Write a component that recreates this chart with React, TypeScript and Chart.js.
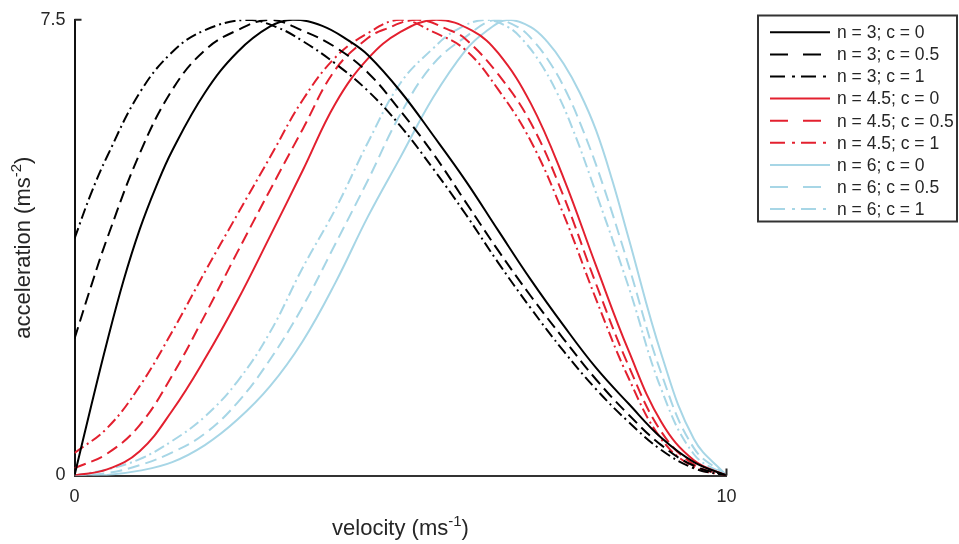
import { useEffect, useRef } from "react";
import { Chart, registerables } from "chart.js";

Chart.register(...registerables);

// ---------- data ----------
const labels = [
  "n = 3; c = 0",
  "n = 3; c = 0.5",
  "n = 3; c = 1",
  "n = 4.5; c = 0",
  "n = 4.5; c = 0.5",
  "n = 4.5; c = 1",
  "n = 6; c = 0",
  "n = 6; c = 0.5",
  "n = 6; c = 1",
];

const n3c0X = [0, 0.25, 0.5, 0.75, 1, 1.25, 1.5, 2, 2.5, 3, 3.35, 3.8, 4.2, 4.5, 5, 5.5, 6, 6.5, 7, 7.5, 8, 8.5, 9, 9.5, 10];
const n3c0Y = [0, 1.12, 2.2, 3.2, 4.05, 4.75, 5.35, 6.3, 6.97, 7.39, 7.5, 7.4, 7.16, 6.92, 6.32, 5.6, 4.85, 4.03, 3.22, 2.47, 1.77, 1.18, 0.62, 0.22, 0];

const n3c05X = [0, 0.25, 0.5, 1, 1.5, 2, 2.5, 3, 3.5, 4, 4.5, 5, 5.5, 6, 6.5, 7, 7.5, 8, 8.5, 9, 9.5, 10];
const n3c05Y = [2.25, 3.1, 3.9, 5.3, 6.35, 7.0, 7.33, 7.5, 7.32, 7.05, 6.63, 6.0, 5.3, 4.5, 3.7, 2.95, 2.25, 1.58, 1.0, 0.5, 0.16, 0];

const n3c1X = [0, 0.25, 0.5, 1, 1.5, 2, 2.65, 3.1, 3.5, 4, 4.5, 5, 5.5, 6, 6.5, 7, 7.5, 8, 8.5, 9, 9.5, 10];
const n3c1Y = [3.9, 4.63, 5.25, 6.3, 6.97, 7.33, 7.5, 7.38, 7.15, 6.78, 6.33, 5.75, 5.05, 4.3, 3.5, 2.75, 2.05, 1.42, 0.88, 0.42, 0.12, 0];

const n45c0X = [0, 0.5, 1, 1.5, 2, 2.5, 3, 3.5, 4, 4.5, 5, 5.55, 6.1, 6.5, 7, 7.5, 8, 8.5, 9, 9.5, 10];
const n45c0Y = [0, 0.1, 0.4, 1.07, 1.92, 2.88, 3.94, 5.02, 6.12, 6.86, 7.3, 7.5, 7.32, 6.95, 6.12, 4.9, 3.45, 2.05, 0.88, 0.25, 0];

const n45c05X = [0, 0.5, 1, 1.5, 2, 2.5, 3, 3.5, 4, 4.5, 4.75, 5.25, 5.75, 6, 6.5, 7, 7.5, 8, 8.5, 9, 9.5, 10];
const n45c05Y = [0.12, 0.36, 0.83, 1.65, 2.64, 3.68, 4.7, 5.7, 6.68, 7.2, 7.34, 7.5, 7.33, 7.18, 6.6, 5.8, 4.6, 3.15, 1.8, 0.72, 0.18, 0];

const n45c1X = [0, 0.5, 1, 1.5, 2, 2.5, 3, 3.5, 4, 4.5, 5, 5.5, 6, 6.5, 7, 7.5, 8, 8.5, 9, 9.5, 10];
const n45c1Y = [0.37, 0.78, 1.47, 2.37, 3.35, 4.3, 5.24, 6.18, 6.88, 7.28, 7.5, 7.3, 7.0, 6.35, 5.5, 4.3, 2.9, 1.6, 0.6, 0.14, 0];

const n6c0X = [0, 0.5, 1, 1.5, 2, 2.5, 3, 3.5, 4, 4.5, 5, 5.5, 6, 6.3, 6.65, 7, 7.25, 7.5, 7.75, 8, 8.25, 8.5, 9, 9.5, 10];
const n6c0Y = [0, 0.01, 0.08, 0.22, 0.5, 0.92, 1.47, 2.21, 3.17, 4.26, 5.24, 6.22, 7.0, 7.3, 7.5, 7.38, 7.14, 6.78, 6.3, 5.68, 4.85, 3.9, 2.0, 0.6, 0];

const n6c05X = [0, 0.5, 1, 1.5, 2, 2.5, 3, 3.5, 4, 4.5, 5, 5.5, 6, 6.45, 6.8, 7.05, 7.3, 7.55, 7.8, 8.1, 8.5, 9, 9.5, 10];
const n6c05Y = [0, 0.04, 0.17, 0.38, 0.69, 1.2, 1.91, 2.78, 3.81, 4.86, 5.95, 6.77, 7.22, 7.5, 7.38, 7.14, 6.78, 6.3, 5.68, 4.8, 3.45, 1.68, 0.45, 0];

const n6c1X = [0, 0.5, 1, 1.5, 2, 2.5, 3, 3.5, 4, 4.5, 5, 5.5, 5.85, 6.3, 6.65, 6.9, 7.15, 7.4, 7.65, 7.95, 8.5, 9, 9.5, 10];
const n6c1Y = [0, 0.1, 0.27, 0.57, 0.97, 1.55, 2.36, 3.42, 4.38, 5.48, 6.46, 7.03, 7.33, 7.5, 7.38, 7.14, 6.78, 6.3, 5.68, 4.8, 3.1, 1.42, 0.35, 0];

const seriesX = [n3c0X, n3c05X, n3c1X, n45c0X, n45c05X, n45c1X, n6c0X, n6c05X, n6c1X];
const seriesY = [n3c0Y, n3c05Y, n3c1Y, n45c0Y, n45c05Y, n45c1Y, n6c0Y, n6c05Y, n6c1Y];

const xTicks = [0, 10];
const yTicks = [0, 7.5];

// ---------- styles ----------
const BLACK = "#000000";
const RED = "#e3202f";
const BLUE = "#a7d6e6";
const colors = [BLACK, BLACK, BLACK, RED, RED, RED, BLUE, BLUE, BLUE];
const DASHES = [[], [12, 6], [11, 4, 2, 4]];
const LEGEND_DASHES = [[], [18, 15], [15, 7, 3, 6]];
const FONT = "'Liberation Sans', Arial, Helvetica, sans-serif";
const TEXT = "#262626";

function drawSupText(
  ctx: CanvasRenderingContext2D,
  parts: [string, boolean][],
  size: number
) {
  const supSize = Math.round(size * 0.7);
  let total = 0;
  const widths: number[] = [];
  for (const [t, sup] of parts) {
    ctx.font = `${sup ? supSize : size}px ${FONT}`;
    const w = ctx.measureText(t).width;
    widths.push(w);
    total += w;
  }
  let x = -total / 2;
  parts.forEach(([t, sup], i) => {
    ctx.font = `${sup ? supSize : size}px ${FONT}`;
    ctx.fillText(t, x, sup ? -size * 0.42 : 0);
    x += widths[i];
  });
}

const decorPlugin = {
  id: "decor",
  afterDraw(chart: any) {
    const { ctx, chartArea } = chart;
    const { left, right, top, bottom } = chartArea;
    ctx.save();
    // inward tick marks
    ctx.strokeStyle = TEXT;
    ctx.lineWidth = 2;
    ctx.beginPath();
    ctx.moveTo(left, top);
    ctx.lineTo(left + 7, top);
    ctx.moveTo(right, bottom);
    ctx.lineTo(right, bottom - 7);
    ctx.stroke();

    // axis titles
    ctx.fillStyle = TEXT;
    ctx.textBaseline = "alphabetic";
    ctx.textAlign = "left";
    ctx.save();
    ctx.translate((left + right) / 2, 535);
    drawSupText(ctx, [["velocity (ms", false], ["-1", true], [")", false]], 22);
    ctx.restore();
    ctx.save();
    ctx.translate(30, (top + bottom) / 2);
    ctx.rotate(-Math.PI / 2);
    drawSupText(ctx, [["acceleration (ms", false], ["-2", true], [")", false]], 22);
    ctx.restore();

    // legend
    const bx = 758, by = 15.5, bw = 199, bh = 206;
    ctx.fillStyle = "#ffffff";
    ctx.fillRect(bx, by, bw, bh);
    ctx.strokeStyle = "#333333";
    ctx.lineWidth = 2;
    ctx.setLineDash([]);
    ctx.strokeRect(bx, by, bw, bh);
    ctx.font = `17.5px ${FONT}`;
    ctx.textBaseline = "middle";
    labels.forEach((lab, i) => {
      const y = 32.3 + i * 22.1;
      ctx.strokeStyle = colors[i];
      ctx.lineWidth = 2;
      ctx.setLineDash(LEGEND_DASHES[i % 3]);
      ctx.beginPath();
      ctx.moveTo(770, y);
      ctx.lineTo(830, y);
      ctx.stroke();
      ctx.setLineDash([]);
      ctx.fillStyle = TEXT;
      ctx.fillText(lab, 837, y + 1);
    });
    ctx.restore();
  },
};

export default function App() {
  const ref = useRef<HTMLCanvasElement | null>(null);

  useEffect(() => {
    if (!ref.current) return;
    const datasets = seriesY.map((ys, i) => ({
      label: labels[i],
      data: ys.map((y, j) => ({ x: seriesX[i][j], y })),
      borderColor: colors[i],
      backgroundColor: colors[i],
      borderWidth: 2,
      borderDash: DASHES[i % 3],
      pointRadius: 0,
      fill: false,
      tension: 0.4,
    }));

    const chart = new Chart(ref.current, {
      type: "line",
      data: { datasets },
      options: {
        animation: false,
        responsive: false,
        devicePixelRatio: 1,
        layout: { padding: { left: 0, right: 232.5, top: 15, bottom: 0 } },
        plugins: {
          legend: { display: false },
          tooltip: { enabled: false },
        },
        scales: {
          x: {
            type: "linear",
            min: 0,
            max: 10,
            afterFit: (s: any) => {
              s.height = 68.5;
            },
            afterBuildTicks: (s: any) => {
              s.ticks = xTicks.map((v) => ({ value: v }));
            },
            grid: { display: false, drawTicks: false },
            border: { display: true, color: "#333333", width: 2 },
            ticks: {
              color: TEXT,
              font: { family: FONT, size: 18 },
              padding: 11,
              maxRotation: 0,
              autoSkip: false,
            },
          },
          y: {
            type: "linear",
            min: 0,
            max: 7.5,
            afterFit: (s: any) => {
              s.width = 74.5;
            },
            afterBuildTicks: (s: any) => {
              s.ticks = yTicks.map((v) => ({ value: v }));
            },
            grid: { display: false, drawTicks: false },
            border: { display: true, color: "#111111", width: 2 },
            ticks: {
              color: TEXT,
              font: { family: FONT, size: 18 },
              padding: 9,
              autoSkip: false,
            },
          },
        },
      },
      plugins: [decorPlugin],
    });
    return () => chart.destroy();
  }, []);

  return (
    <div style={{ position: "absolute", left: 0, top: 0, width: 959, height: 544, background: "#fff" }}>
      <canvas ref={ref} width={959} height={544} style={{ width: 959, height: 544, display: "block" }} />
    </div>
  );
}
